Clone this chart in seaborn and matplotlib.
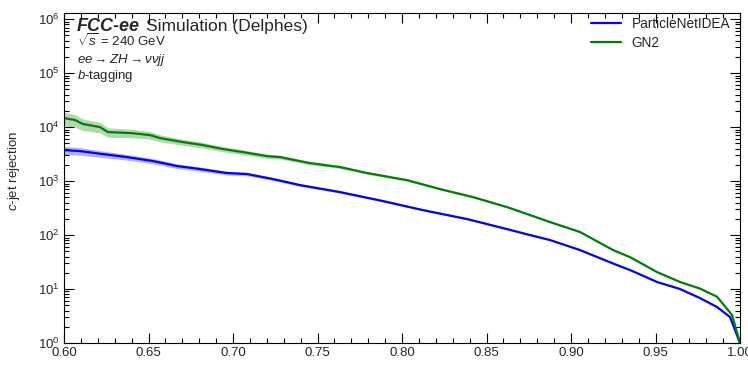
import numpy as np
import pandas as pd
import matplotlib
matplotlib.use("Agg")
import matplotlib.pyplot as plt
from matplotlib.ticker import LogLocator, MultipleLocator, NullFormatter
import seaborn as sns

# b-jet efficiency working points and c-jet rejection for each tagger
eff_pnet = [0.600, 0.6095, 0.6231, 0.6373, 0.6527, 0.6669, 0.6805, 0.6964, 0.7083,
            0.7237, 0.7396, 0.7633, 0.7888, 0.8124, 0.8385, 0.8621, 0.8757, 0.8876,
            0.9053, 0.9272, 0.9349, 0.9509, 0.9645, 0.9763, 0.9864, 0.9941, 1.000]
rej_pnet = [3750, 3590, 3160, 2780, 2350, 1900, 1670, 1410, 1350,
            1090, 843, 626, 426, 290, 198, 129, 100, 80.8,
            52.7, 27.8, 22.5, 13.5, 10.0, 6.8, 4.64, 3.03, 1.0]
relerr_pnet = [0.17, 0.16, 0.14, 0.12, 0.11, 0.10, 0.09, 0.08, 0.07,
               0.06, 0.05, 0.045, 0.04, 0.035, 0.03, 0.025, 0.02, 0.02,
               0.015, 0.015, 0.01, 0.01, 0.01, 0.01, 0.01, 0.01, 0.0]

eff_gn2 = [0.600, 0.6065, 0.6112, 0.6213, 0.626, 0.640, 0.6509, 0.6568, 0.6704,
           0.6822, 0.6941, 0.7059, 0.7201, 0.7278, 0.7456, 0.7633, 0.7793, 0.803,
           0.8225, 0.842, 0.8621, 0.8757, 0.8876, 0.9053, 0.9249, 0.9349, 0.9509,
           0.9645, 0.9763, 0.9864, 0.9953, 1.000]
rej_gn2 = [14700, 13500, 11400, 10000, 8080, 7740, 7110, 6250, 5270,
           4640, 3920, 3440, 2900, 2780, 2150, 1820, 1410, 1040,
           711, 505, 330, 235, 174, 114, 52.7, 39.0, 20.6,
           13.5, 10.2, 7.2, 3.3, 1.0]
relerr_gn2 = [0.28, 0.26, 0.24, 0.22, 0.20, 0.18, 0.16, 0.15, 0.13,
              0.12, 0.11, 0.10, 0.09, 0.08, 0.07, 0.06, 0.05, 0.045,
              0.04, 0.035, 0.03, 0.03, 0.025, 0.02, 0.02, 0.015, 0.015,
              0.01, 0.01, 0.01, 0.01, 0.0]

taggers = ["ParticleNetIDEA", "GN2"]
colors = {"ParticleNetIDEA": "#0000ff", "GN2": "#008000"}

df = pd.concat([
    pd.DataFrame({"eff": eff_pnet, "rej": rej_pnet, "err": relerr_pnet, "tagger": "ParticleNetIDEA"}),
    pd.DataFrame({"eff": eff_gn2, "rej": rej_gn2, "err": relerr_gn2, "tagger": "GN2"}),
], ignore_index=True)

sns.set_style("ticks")
plt.rcParams["font.family"] = ["Liberation Sans", "DejaVu Sans"]
plt.rcParams["mathtext.fontset"] = "custom"
plt.rcParams["mathtext.rm"] = "Liberation Sans"
plt.rcParams["mathtext.it"] = "Liberation Sans:italic"
plt.rcParams["mathtext.bf"] = "Liberation Sans:bold"

fig = plt.figure(figsize=(7.48, 3.65), dpi=100)
ax = fig.add_axes([64 / 748, 22 / 365, 676 / 748, 330 / 365])

# uncertainty bands
for name in taggers:
    sub = df[df["tagger"] == name]
    ax.fill_between(sub["eff"], sub["rej"] * (1 - sub["err"]), sub["rej"] * (1 + sub["err"]),
                    color=colors[name], alpha=0.3, linewidth=0)

sns.lineplot(data=df, x="eff", y="rej", hue="tagger", hue_order=taggers,
             palette=colors, linewidth=1.6, sort=False, estimator=None, ax=ax)

ax.set_yscale("log")
ax.set_xlim(0.6, 1.0)
ax.set_ylim(1, 1.3e6)
ax.set_xlabel("")
ax.set_ylabel(r"$c$-jet rejection", fontsize=9.5)
ax.yaxis.set_label_coords(-0.062, 0.52)

ax.xaxis.set_major_locator(MultipleLocator(0.05))
ax.xaxis.set_minor_locator(MultipleLocator(0.01))
ax.yaxis.set_major_locator(LogLocator(base=10, numticks=10))
ax.yaxis.set_minor_locator(LogLocator(base=10, subs=np.arange(2, 10), numticks=100))
ax.yaxis.set_minor_formatter(NullFormatter())
ax.tick_params(which="both", direction="in", top=True, right=True, labelsize=9.5,
               width=0.8, color="black")
ax.tick_params(which="major", length=7, pad=3)
ax.tick_params(which="minor", length=3.5)
for s in ax.spines.values():
    s.set_linewidth(0.8)
    s.set_color("black")

ax.legend(loc="upper right", frameon=False, fontsize=9.8, handlelength=2.2,
          bbox_to_anchor=(1.0, 1.018), borderaxespad=0.3, labelspacing=0.4)

title = ax.text(0.019, 0.945, "FCC-ee", transform=ax.transAxes, fontsize=13,
                fontweight="bold", fontstyle="italic", va="baseline")
fig.canvas.draw()
bb = title.get_window_extent()
x_sim = ax.transAxes.inverted().transform((bb.x1 + 6, 0))[0]
ax.text(x_sim, 0.945, "Simulation (Delphes)", transform=ax.transAxes, fontsize=12.5,
        va="baseline")
ax.text(0.019, 0.9, r"$\sqrt{s}$ = 240 GeV", transform=ax.transAxes, fontsize=9.5,
        va="baseline")
ax.text(0.019, 0.848, r"$ee \rightarrow ZH \rightarrow \nu\nu jj$", transform=ax.transAxes,
        fontsize=9.5, va="baseline")
ax.text(0.019, 0.8, r"$b$-tagging", transform=ax.transAxes, fontsize=9.5, va="baseline")

fig.savefig("out.png", dpi=100)
